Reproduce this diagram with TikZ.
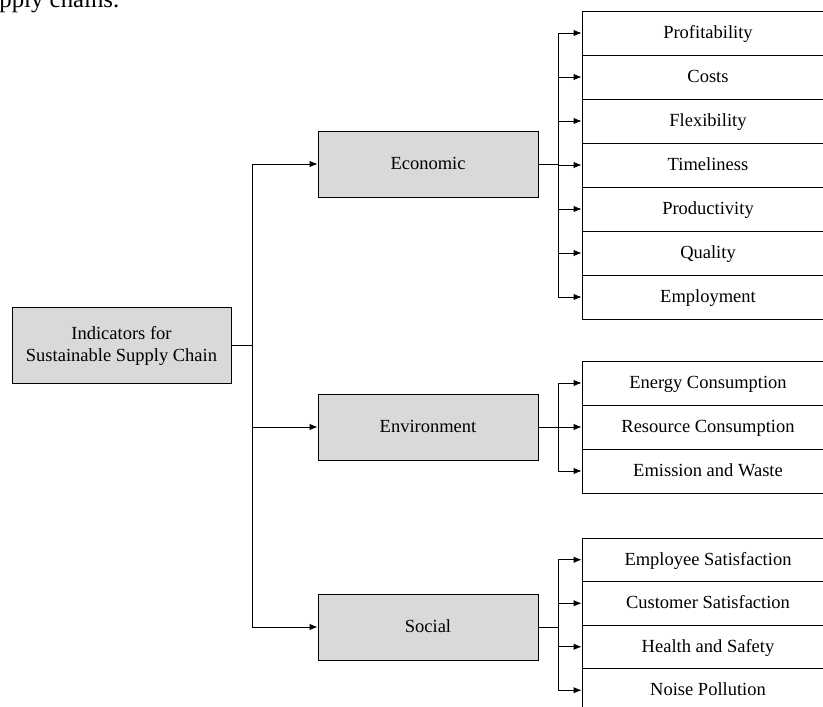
\documentclass[tikz,border=0pt]{standalone}
\usepackage{fontspec}
\setmainfont{Liberation Serif}
\usepackage{tikz}
\usetikzlibrary{positioning,arrows.meta}
\definecolor{boxgray}{HTML}{D9D9D9}

\begin{document}
\begin{tikzpicture}[x=1pt,y=-1pt,line width=0.9pt,
  font=\fontsize{18.5}{22}\selectfont,>={Latex[length=8pt,width=6.5pt]},
  rootbox/.style={rectangle,draw,fill=boxgray,inner sep=0pt,align=center},
  grp/.style={rectangle,draw,fill=boxgray,minimum width=220pt,minimum height=66pt,
    inner sep=0pt,text height=13pt,text depth=2pt},
  leaf/.style={rectangle,draw,minimum width=252pt,minimum height=44pt,
    inner sep=0pt,text height=13pt,text depth=2pt}]
\useasboundingbox (0,0) rectangle (823,707);
\clip (0,0) rectangle (823,707);
% caption remnant
\node[font=\fontsize{24.8}{28}\selectfont,anchor=base west,inner sep=0pt] (cap) at (-1,7) {pply chains.};
% root and groups
\node[rootbox,minimum width=219pt,minimum height=76pt] (root) at (121.5,345) {\strut Indicators for\\Sustainable Supply Chain};
\node[grp] (econ) at (428,164) {Economic};
\node[grp] (env) at (428,427) {Environment};
\node[grp] (soc) at (428,627) {Social};
\coordinate (tr) at (252,345);
\draw (root.east) -- (tr);
\foreach \m in {econ,env,soc}
  \draw[->] (tr) |- (\m.west);
% Economic leaves
\node[leaf] (e1) at (708,33) {Profitability};
\node[leaf] (e2) at (708,77) {Costs};
\node[leaf] (e3) at (708,121) {Flexibility};
\node[leaf] (e4) at (708,165) {Timeliness};
\node[leaf] (e5) at (708,209) {Productivity};
\node[leaf] (e6) at (708,253) {Quality};
\node[leaf] (e7) at (708,297) {Employment};
% Environment leaves
\node[leaf] (v1) at (708,383) {Energy Consumption};
\node[leaf] (v2) at (708,427) {Resource Consumption};
\node[leaf] (v3) at (708,471) {Emission and Waste};
% Social leaves
\node[leaf,minimum height=43.5pt] (s1) at (708,559.75) {Employee Satisfaction};
\node[leaf,minimum height=43.5pt] (s2) at (708,603.25) {Customer Satisfaction};
\node[leaf,minimum height=43.5pt] (s3) at (708,646.75) {Health and Safety};
\node[leaf,minimum height=43.5pt] (s4) at (708,690.25) {Noise Pollution};
% branches
\coordinate (eb) at (558,164);
\coordinate (vb) at (558,427);
\coordinate (sb) at (558,627);
\draw (econ.east) -- (eb);
\draw (env.east) -- (vb);
\draw (soc.east) -- (sb);
\foreach \l in {e1,e2,e3,e4,e5,e6,e7}
  \draw[->] (eb) |- (\l.west);
\foreach \l in {v1,v2,v3}
  \draw[->] (vb) |- (\l.west);
\foreach \l in {s1,s2,s3,s4}
  \draw[->] (sb) |- (\l.west);
\end{tikzpicture}
\end{document}
